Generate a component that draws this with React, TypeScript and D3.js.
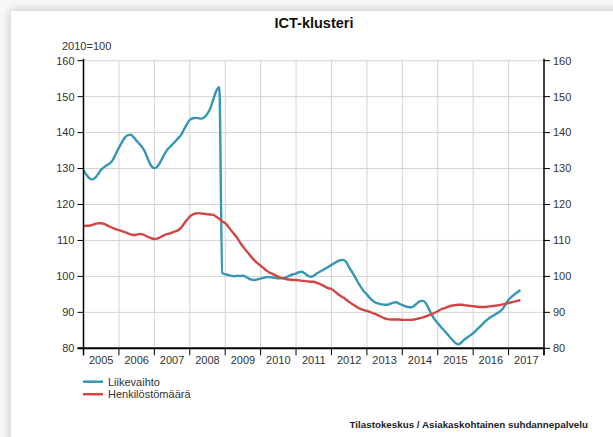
import * as d3 from 'd3'

// monthly index values, Jan 2005 .. May 2017
const startYear = 2005
const years = [2005, 2006, 2007, 2008, 2009, 2010, 2011, 2012, 2013, 2014, 2015, 2016, 2017]
const yTicks = [80, 90, 100, 110, 120, 130, 140, 150, 160]

const liikevaihto = [
  129.5, 128.3, 127.3, 127.0, 127.5, 128.5, 129.7, 130.4, 131.0, 131.5, 132.5, 134.2,
  135.8, 137.3, 138.6, 139.3, 139.4, 138.7, 137.7, 136.8, 135.8, 134.3, 132.3, 130.7,
  130.1, 130.5, 131.8, 133.3, 134.8, 135.8, 136.6, 137.5, 138.4, 139.3, 140.8, 142.3,
  143.5, 144.0, 144.1, 144.0, 143.9, 144.3, 145.3, 146.8, 149.3, 151.6, 152.6, 101.0,
  100.6, 100.4, 100.2, 100.0, 100.2, 100.1, 100.2, 99.9, 99.4, 99.1, 99.0, 99.2,
  99.4, 99.6, 99.8, 99.8, 99.7, 99.6, 99.5, 99.5, 99.6, 99.9, 100.3, 100.6,
  100.8, 101.2, 101.3, 100.8, 100.2, 99.9, 100.2, 100.8, 101.3, 101.7, 102.2, 102.7,
  103.2, 103.7, 104.2, 104.5, 104.6, 104.0, 102.5, 101.2, 99.8, 98.3, 97.0, 95.8,
  95.0, 94.0, 93.2, 92.7, 92.4, 92.2, 92.1, 92.1, 92.4, 92.7, 92.8, 92.4,
  92.0, 91.7, 91.5, 91.4, 91.8, 92.5, 93.1, 93.2, 92.5, 90.9, 89.3, 88.0,
  87.0, 86.0, 85.1, 84.2, 83.2, 82.3, 81.5, 81.1, 81.6, 82.4, 83.0, 83.6,
  84.2, 85.0, 85.8, 86.6, 87.4, 88.1, 88.7, 89.2, 89.7, 90.2, 91.0, 92.2,
  93.5, 94.3, 95.0, 95.6, 96.2,
]

const henkilostomaara = [
  114.0, 114.1, 114.1, 114.3, 114.6, 114.8, 114.8, 114.6, 114.2, 113.8, 113.4, 113.1,
  112.9, 112.6, 112.3, 112.0, 111.7, 111.5, 111.6, 111.8, 111.7, 111.3, 110.9, 110.6,
  110.4, 110.5, 110.9, 111.3, 111.7, 111.9, 112.2, 112.5, 112.8, 113.5, 114.6, 115.7,
  116.6, 117.2, 117.5, 117.6, 117.5, 117.4, 117.3, 117.2, 117.1, 116.6, 116.0, 115.3,
  114.8, 113.9, 112.8, 111.8, 110.8, 109.5, 108.3, 107.3, 106.3, 105.3, 104.4, 103.6,
  103.0, 102.3, 101.6, 101.1, 100.7, 100.3, 99.9, 99.6, 99.4, 99.2, 99.1, 99.0,
  99.0, 98.9, 98.8, 98.7, 98.6, 98.5, 98.5, 98.2, 97.9, 97.5, 97.1, 96.7,
  96.5, 95.9, 95.2, 94.6, 94.1, 93.5, 92.9, 92.3, 91.8, 91.3, 90.9, 90.6,
  90.4, 90.1, 89.8, 89.5, 89.1, 88.7, 88.3, 88.1, 88.0, 88.0, 88.0, 88.0,
  87.9, 87.9, 87.9, 87.9, 88.0, 88.2, 88.4, 88.6, 88.9, 89.2, 89.5, 89.9,
  90.3, 90.8, 91.1, 91.4, 91.7, 91.9, 92.0, 92.1, 92.1, 92.0, 91.9, 91.8,
  91.7, 91.6, 91.5, 91.5, 91.5, 91.6, 91.7, 91.8, 91.9, 92.0, 92.2, 92.4,
  92.6, 92.8, 93.0, 93.2, 93.4,
]

const series = [
  { name: 'Liikevaihto', values: liikevaihto, color: '#3596b5' },
  { name: 'Henkilöstömäärä', values: henkilostomaara, color: '#d34545' },
]

const width = 613,
      height = 437,
      left = 83.5,
      right = 544,
      top = 60.7,
      bottom = 348.3,
      font = "'Liberation Sans', Arial, sans-serif"

export default function App() {
  const x = d3.scaleLinear().domain([2005, 2018]).range([left, right])
  const y = d3.scaleLinear().domain([80, 160]).range([bottom, top])

  const line = d3.line<number>()
    .x((_, i) => x(startYear + i / 12))
    .y(d => y(d))
    .curve(d3.curveMonotoneX)

  const yearEdges = years.concat([2018])

  return (
    <div style={{ position: 'absolute', left: 0, top: 0 }}>
      <svg width={width} height={height} style={{ display: 'block', fontFamily: font }}>
        <defs>
          <filter id='shadow' x='-5%' y='-5%' width='110%' height='110%'>
            <feGaussianBlur in='SourceAlpha' stdDeviation='5' />
            <feComponentTransfer><feFuncA type='linear' slope='0.25' /></feComponentTransfer>
            <feMerge><feMergeNode /><feMergeNode in='SourceGraphic' /></feMerge>
          </filter>
        </defs>
        <rect width={width} height={height} fill='#f7f7f7' />
        <rect x={11} y={11} width={width + 20} height={height + 20} fill='#fff' filter='url(#shadow)' />

        <text x={314} y={27.5} textAnchor='middle' fontSize={14.5} fontWeight='bold' fill='#111'>ICT-klusteri</text>
        <text x={62} y={50} fontSize={11} fill='#333'>2010=100</text>

        <g className='grid'>
          {yTicks.slice(1).map(t => (
            <line key={t} x1={left} x2={right} y1={y(t)} y2={y(t)} stroke='#d4d4d4' strokeWidth={1} />
          ))}
          {years.slice(1).map(yr => (
            <line key={yr} x1={x(yr)} x2={x(yr)} y1={top} y2={bottom} stroke='#d4d4d4' strokeWidth={1} />
          ))}
        </g>

        <g className='lines'>
          {series.map(s => (
            <path key={s.name} d={line(s.values) || ''} fill='none' stroke={s.color} strokeWidth={2.4} strokeLinejoin='round' />
          ))}
        </g>

        <g className='axis left'>
          <line x1={left} x2={left} y1={top - 2} y2={bottom + 7} stroke='#000' strokeWidth={1.5} />
          {yTicks.map(t => (
            <g key={t} transform={`translate(0, ${y(t)})`}>
              <line x1={left - 6} x2={left} stroke='#000' strokeWidth={1} />
              <text x={left - 9} dy='0.35em' textAnchor='end' fontSize={11} fill='#333'>{t}</text>
            </g>
          ))}
        </g>

        <g className='axis right'>
          <line x1={right} x2={right} y1={top - 2} y2={bottom + 7} stroke='#000' strokeWidth={1.5} />
          {yTicks.map(t => (
            <g key={t} transform={`translate(0, ${y(t)})`}>
              <line x1={right} x2={right + 6} stroke='#000' strokeWidth={1} />
              <text x={right + 9} dy='0.35em' textAnchor='start' fontSize={11} fill='#333'>{t}</text>
            </g>
          ))}
        </g>

        <g className='axis bottom'>
          <line x1={left - 6} x2={right} y1={bottom} y2={bottom} stroke='#000' strokeWidth={2} />
          {yearEdges.map(yr => (
            <line key={yr} x1={x(yr)} x2={x(yr)} y1={bottom} y2={bottom + 7} stroke='#000' strokeWidth={1} />
          ))}
          {years.map(yr => (
            <text key={yr} x={x(yr + 0.5)} y={bottom + 16} textAnchor='middle' fontSize={11} fill='#333'>{yr}</text>
          ))}
        </g>

        <g className='legend'>
          {series.map((s, i) => (
            <g key={s.name} transform={`translate(83, ${381.7 + i * 12.5})`}>
              <line x1={0} x2={20} stroke={s.color} strokeWidth={2.5} />
              <text x={25} dy='0.35em' fontSize={11} fill='#333'>{s.name}</text>
            </g>
          ))}
        </g>

        <text x={588} y={428} textAnchor='end' fontSize={9.8} fontWeight='bold' fill='#222'>Tilastokeskus / Asiakaskohtainen suhdannepalvelu</text>
      </svg>
    </div>
  )
}
